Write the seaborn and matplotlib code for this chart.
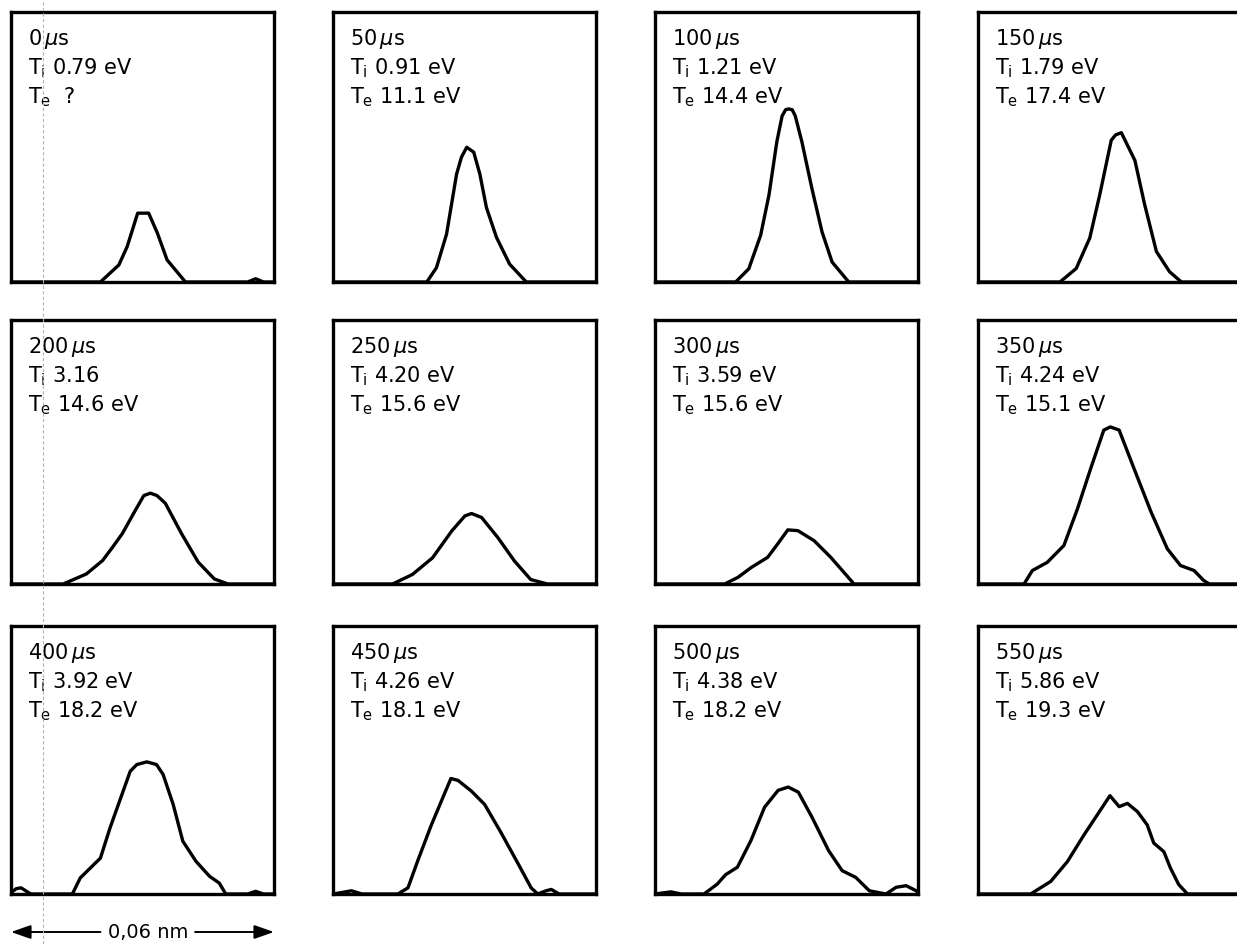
import numpy as np
import pandas as pd
import seaborn as sns
import matplotlib
matplotlib.use("Agg")
import matplotlib.pyplot as plt
from matplotlib.lines import Line2D

# ---------------- data (x: wavelength across panel in pm, 0..60 = 0.06 nm; y: relative intensity, % of panel height)
times = ["0", "50", "100", "150", "200", "250", "300", "350", "400", "450", "500", "550"]
ti_labels = ["0.79 eV", "0.91 eV", "1.21 eV", "1.79 eV", "3.16", "4.20 eV",
             "3.59 eV", "4.24 eV", "3.92 eV", "4.26 eV", "4.38 eV", "5.86 eV"]
te_labels = [" ?", "11.1 eV", "14.4 eV", "17.4 eV", "14.6 eV", "15.6 eV",
             "15.6 eV", "15.1 eV", "18.2 eV", "18.1 eV", "18.2 eV", "19.3 eV"]

x_0us = [0, 20.4, 24.6, 26.5, 28.9, 31.4, 33.4, 35.6, 39.8, 54.0, 55.8, 57.6, 60]
y_0us = [0, 0, 6.3, 13.1, 25.5, 25.5, 18.1, 8.2, 0, 0, 1.2, 0, 0]

x_50us = [0, 21.4, 23.6, 25.9, 28.2, 29.3, 30.5, 32.1, 33.5, 35.0, 37.3, 40.3, 44.1, 60]
y_50us = [0, 0, 5.3, 17.7, 40.0, 46.2, 49.9, 48.1, 40.0, 27.6, 16.5, 6.6, 0, 0]

x_100us = [0, 18.4, 21.4, 24.1, 26.0, 27.8, 29.0, 29.8, 30.5, 31.3, 32.0, 33.5, 35.8, 38.1, 40.4, 44.2, 60]
y_100us = [0, 0, 4.9, 17.3, 32.2, 52.0, 61.5, 63.8, 64.1, 63.8, 61.5, 52.0, 34.6, 18.6, 7.4, 0, 0]

x_150us = [0, 18.7, 22.4, 25.5, 27.8, 30.4, 31.4, 32.7, 35.8, 38.0, 40.7, 43.7, 46.4, 60]
y_150us = [0, 0, 5.0, 16.3, 32.5, 52.5, 54.5, 55.3, 45.0, 28.8, 11.3, 3.8, 0, 0]

x_200us = [0, 11.9, 17.2, 20.9, 23.2, 25.4, 28.4, 30.3, 31.8, 33.3, 35.2, 38.9, 42.7, 46.4, 49.5, 60]
y_200us = [0, 0, 3.8, 8.9, 14.0, 19.1, 28.0, 33.5, 34.4, 33.5, 30.6, 19.1, 8.3, 1.9, 0, 0]

x_250us = [0, 13.6, 18.1, 22.7, 27.1, 30.1, 31.6, 33.9, 37.6, 41.4, 45.1, 48.9, 60]
y_250us = [0, 0, 3.6, 9.9, 20.1, 25.8, 26.7, 25.2, 17.6, 8.7, 1.7, 0, 0]

x_300us = [0, 15.9, 18.9, 22.0, 25.7, 28.0, 30.3, 32.6, 36.3, 40.1, 43.1, 45.4, 60]
y_300us = [0, 0, 2.5, 6.3, 10.1, 15.2, 20.5, 20.2, 16.4, 10.1, 4.4, 0, 0]

x_350us = [0, 10.5, 12.4, 15.8, 19.6, 22.7, 25.7, 28.7, 30.2, 32.2, 35.6, 39.5, 43.2, 46.2, 49.3, 51.5, 52.8, 60]
y_350us = [0, 0, 5.1, 8.2, 14.6, 28.5, 43.7, 58.3, 59.5, 58.3, 43.7, 27.2, 13.3, 7.0, 5.1, 1.3, 0, 0]

x_400us = [0, 1.2, 2.3, 4.5, 14.0, 15.8, 20.4, 22.6, 27.2, 28.7, 31.0, 33.2, 34.7, 37.0, 39.2, 42.2, 45.3, 47.5, 49.0, 54.0, 55.8, 57.6, 60]
y_400us = [0.5, 2.0, 2.3, 0, 0, 6.0, 13.4, 24.7, 45.8, 48.3, 49.3, 48.3, 44.6, 33.4, 19.7, 12.2, 6.6, 4.1, 0, 0, 1.0, 0, 0]

x_450us = [0, 1.8, 4.2, 6.6, 14.8, 17.1, 19.4, 22.4, 25.4, 26.9, 28.5, 31.5, 34.6, 38.3, 42.2, 45.2, 46.7, 48.6, 49.8, 51.6, 60]
y_450us = [0, 0.5, 1.2, 0, 0, 2.3, 12.7, 25.6, 37.3, 43.1, 42.4, 38.5, 33.4, 23.0, 11.4, 2.3, 0, 1.2, 1.7, 0, 0]

x_500us = [0, 3.6, 6.0, 11.2, 14.2, 16.1, 18.8, 21.9, 25.0, 28.1, 30.4, 32.7, 35.8, 39.6, 42.7, 45.8, 48.9, 52.7, 55.0, 57.3, 59.6, 60]
y_500us = [0, 0.8, 0, 0, 3.7, 7.2, 10.0, 20.0, 32.4, 38.7, 39.9, 38.0, 28.7, 16.2, 8.7, 6.2, 1.2, 0, 2.5, 3.1, 1.2, 0.5]

x_550us = [0, 12.0, 16.6, 20.4, 24.2, 27.2, 30.1, 32.2, 34.1, 36.4, 38.6, 40.1, 42.4, 43.9, 45.8, 47.8, 60]
y_550us = [0, 0, 4.7, 12.1, 22.1, 29.5, 36.7, 32.6, 33.8, 30.7, 25.8, 19.0, 15.8, 9.7, 3.5, 0, 0]

xs = [x_0us, x_50us, x_100us, x_150us, x_200us, x_250us,
      x_300us, x_350us, x_400us, x_450us, x_500us, x_550us]
ys = [y_0us, y_50us, y_100us, y_150us, y_200us, y_250us,
      y_300us, y_350us, y_400us, y_450us, y_500us, y_550us]

frames = []
for t, xv, yv in zip(times, xs, ys):
    frames.append(pd.DataFrame({"time": t, "pm": xv, "intensity": yv}))
df = pd.concat(frames, ignore_index=True)

# ---------------- style
sns.set_theme(style="white")
plt.rcParams["font.family"] = ["DejaVu Sans"]
plt.rcParams["mathtext.fontset"] = "dejavusans"

W, H = 1237, 944
fig = plt.figure(figsize=(W / 100, H / 100), dpi=100)
fig.patch.set_facecolor("white")

col_left = [11, 333, 655, 978]
row_top = [12, 320, 626]
row_h = [270, 264, 268]
pw = 263
FS = 15

axes = []
for i, t in enumerate(times):
    r, c = divmod(i, 4)
    left = col_left[c] / W
    bottom = 1 - (row_top[r] + row_h[r]) / H
    ax = fig.add_axes([left, bottom, pw / W, row_h[r] / H])
    sub = df[df["time"] == t]
    sns.lineplot(data=sub, x="pm", y="intensity", ax=ax, color="black",
                 lw=2.4, sort=False, estimator=None, legend=False,
                 solid_joinstyle="round", solid_capstyle="round")
    ax.set_xlim(0, 60)
    ax.set_ylim(0, 100)
    ax.set_xticks([])
    ax.set_yticks([])
    ax.set_xlabel("")
    ax.set_ylabel("")
    for s in ax.spines.values():
        s.set_visible(True)
        s.set_color("black")
        s.set_linewidth(2.4)
    h = row_h[r]
    tx = 17 / pw
    ax.text(tx, 1 - 33 / h, f"{t}$\\,\\mu$s", transform=ax.transAxes,
            fontsize=FS, va="baseline", ha="left", color="black")
    ax.text(tx, 1 - 62 / h, f"T$_\\mathregular{{i}}$ {ti_labels[i]}", transform=ax.transAxes,
            fontsize=FS, va="baseline", ha="left", color="black")
    ax.text(tx, 1 - 91 / h, f"T$_\\mathregular{{e}}$ {te_labels[i]}", transform=ax.transAxes,
            fontsize=FS, va="baseline", ha="left", color="black")
    axes.append(ax)

# ---------------- scale bar under the first panel of the last row
ax9 = axes[8]
yb = -38 / row_h[2]
ax9.annotate("", xy=(0.0, yb), xytext=(0.34, yb), xycoords="axes fraction",
             textcoords="axes fraction", annotation_clip=False,
             arrowprops=dict(arrowstyle="-|>,head_length=1.0,head_width=0.35",
                             color="black", lw=1.4, shrinkA=0, shrinkB=0))
ax9.annotate("", xy=(1.0, yb), xytext=(0.70, yb), xycoords="axes fraction",
             textcoords="axes fraction", annotation_clip=False,
             arrowprops=dict(arrowstyle="-|>,head_length=1.0,head_width=0.35",
                             color="black", lw=1.4, shrinkA=0, shrinkB=0))
ax9.text(0.52, yb, "0,06 nm", transform=ax9.transAxes, ha="center", va="center",
         fontsize=14, color="black", clip_on=False)

# faint scan line seen on the original page
fig.add_artist(Line2D([43 / W, 43 / W], [0, 1], transform=fig.transFigure,
                      color="#b5b5b5", lw=0.8, ls=(0, (3, 2))))

fig.savefig("out.png", dpi=100, facecolor="white")
